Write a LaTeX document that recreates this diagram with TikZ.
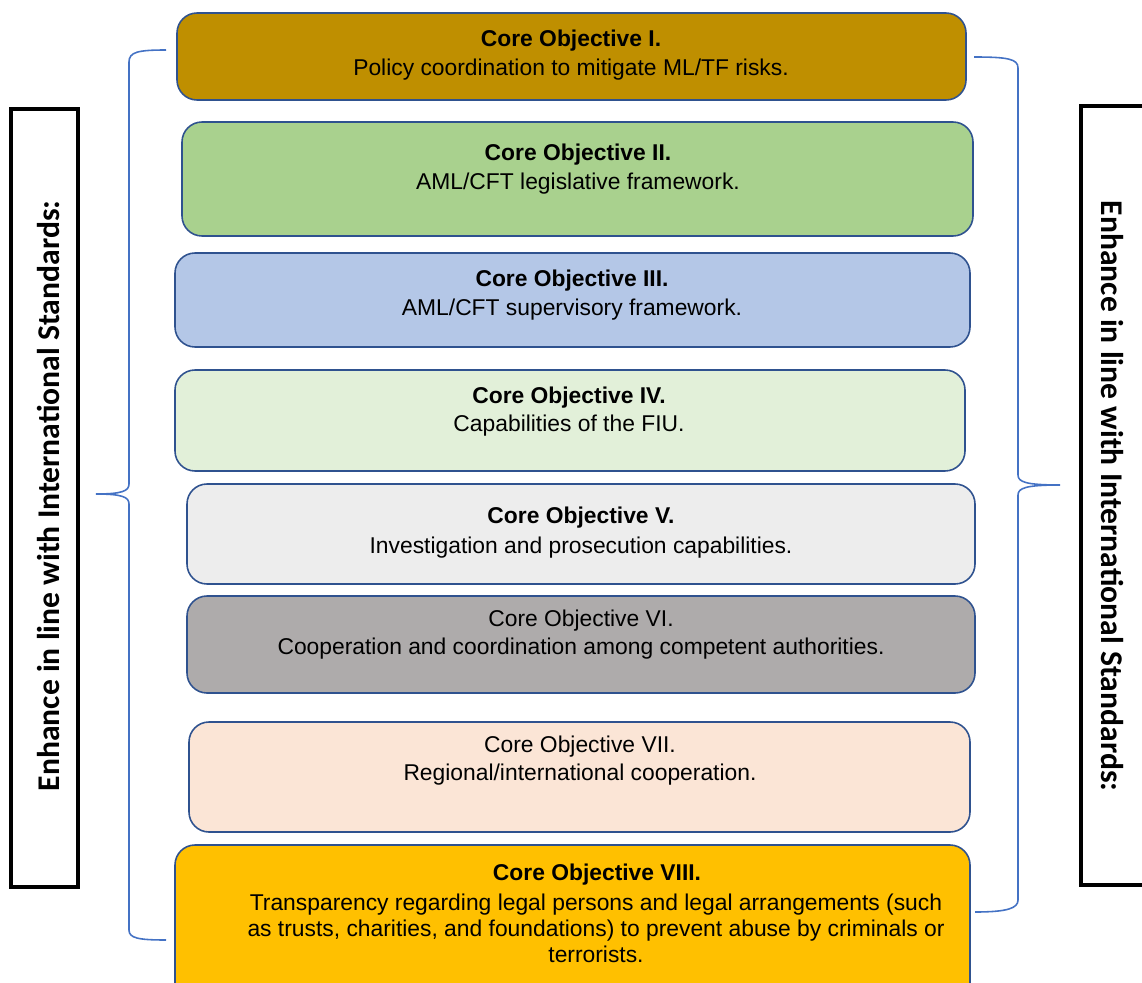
\documentclass[tikz,border=0pt]{standalone}
\usepackage{fontspec}
\setmainfont{Liberation Sans}
\newfontfamily\sidefont{Carlito}
\usetikzlibrary{positioning}

\definecolor{objI}{HTML}{BF8F00}
\definecolor{objII}{HTML}{A9D18E}
\definecolor{objIII}{HTML}{B4C7E7}
\definecolor{objIV}{HTML}{E2F0D9}
\definecolor{objV}{HTML}{EDEDED}
\definecolor{objVI}{HTML}{AEABAB}
\definecolor{objVII}{HTML}{FBE5D6}
\definecolor{objVIII}{HTML}{FFC000}
\definecolor{objline}{HTML}{2F528F}
\definecolor{bracecol}{HTML}{4472C4}

\begin{document}
\begin{tikzpicture}[x=0.02cm,y=-0.02cm,
  objbox/.style={draw=objline,line width=0.9pt,rounded corners=0.4cm},
  title/.style={font=\fontsize{13}{15}\selectfont\bfseries,inner sep=0pt},
  desc/.style={font=\fontsize{13}{14.7}\selectfont,inner sep=0pt,align=center},
  brace/.style={draw=bracecol,line width=0.9pt},
  sidebox/.style={draw=black,line width=2.3pt},
  sidetext/.style={font=\fontsize{18}{20}\sidefont\bfseries,inner sep=0pt}]
\useasboundingbox (0,0) rectangle (1142,983);

% objective boxes
\foreach \xa/\ya/\xb/\yb/\col in {177/13/966/100/objI, 182/122/973/236/objII,
  175/253/970/347/objIII, 175/370/965/471/objIV, 187/484/975/584/objV,
  187/596/975/693/objVI, 189/722/970/832/objVII, 175/845/970/1010/objVIII}
  \draw[objbox,fill=\col] (\xa,\ya) rectangle (\xb,\yb);

\node[title] (t1) at (571,41) {Core Objective I.};
\node[desc] (d1) at (571,70) {Policy coordination to mitigate ML/TF risks.};
\node[title] (t2) at (578,155) {Core Objective II.};
\node[desc] (d2) at (578,184) {AML/CFT legislative framework.};
\node[title] (t3) at (572,281) {Core Objective III.};
\node[desc] (d3) at (572,310) {AML/CFT supervisory framework.};
\node[title] (t4) at (569,398) {Core Objective IV.};
\node[desc] (d4) at (569,426) {Capabilities of the FIU.};
\node[title] (t5) at (581,518) {Core Objective V.};
\node[desc] (d5) at (581,548) {Investigation and prosecution capabilities.};
\node[title,font=\fontsize{13}{15}\selectfont] (t6) at (581,621) {Core Objective VI.};
\node[desc] (d6) at (581,649) {Cooperation and coordination among competent authorities.};
\node[title,font=\fontsize{13}{15}\selectfont] (t7) at (580,747) {Core Objective VII.};
\node[desc] (d7) at (580,775) {Regional/international cooperation.};
\node[title] (t8) at (597,875) {Core Objective VIII.};
\node[desc] (d8) at (596,928) {Transparency regarding legal persons and legal arrangements (such\\
  as trusts, charities, and foundations) to prevent abuse by criminals or\\ terrorists.};

% braces
\coordinate (lb) at (96,494);
\coordinate (rb) at (1060,485);
\draw[brace] (166,50) .. controls (138,50) and (129,52) .. (129,62) -- (129,484)
  .. controls (129,491) and (122,494) .. (lb) .. controls (122,494) and (129,497) .. (129,504)
  -- (129,930) .. controls (129,938) and (138,940) .. (166,940);
\draw[brace] (974,57) .. controls (1008,57) and (1018,59) .. (1018,68) -- (1018,475)
  .. controls (1018,482) and (1026,485) .. (rb) .. controls (1026,485) and (1018,488) .. (1018,495)
  -- (1018,900) .. controls (1018,908) and (1008,912) .. (975,912);

% side labels
\draw[sidebox] (11,109) rectangle (78,887);
\draw[sidebox] (1081,106) rectangle (1170,885);
\node[sidetext,rotate=90] (lefttext) at (48,496) {Enhance in line with International Standards:};
\node[sidetext,rotate=-90] (righttext) at (1112,496) {Enhance in line with International Standards:};
\end{tikzpicture}
\end{document}
